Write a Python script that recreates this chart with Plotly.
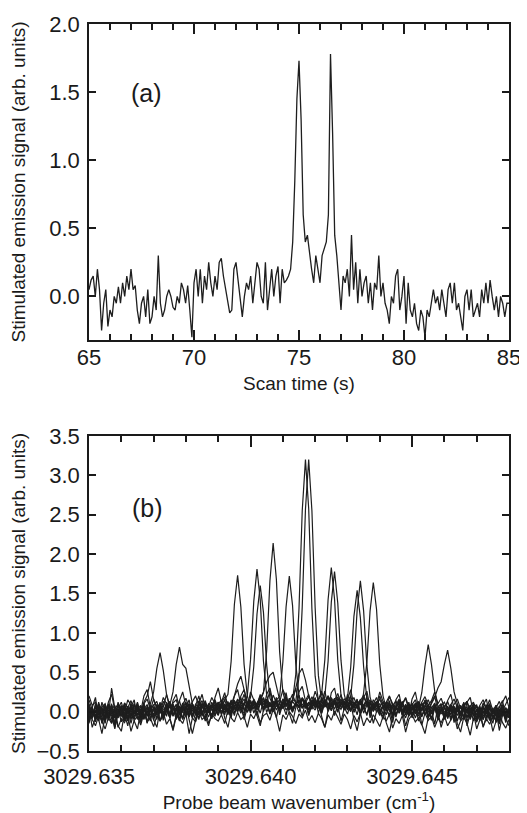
import plotly.graph_objects as go

# ---------------- Panel (a): scan time trace ----------------
time_start = 65.0
time_step = 0.1
signal_a = [
    0.05, 0.12, 0.15, 0.00, 0.20, 0.05, -0.25, -0.05, 0.05, -0.22,
    -0.10, -0.15, 0.00, -0.05, 0.07, -0.05, 0.10, 0.00, 0.15, 0.05,
    0.20, 0.05, 0.08, -0.10, -0.20, -0.05, 0.00, -0.15, 0.05, -0.20,
    -0.15, 0.00, -0.10, 0.30, -0.05, -0.15, -0.10, 0.00, 0.05, 0.00,
    -0.08, -0.10, 0.00, -0.05, 0.10, 0.05, -0.05, 0.08, -0.10, -0.30,
    0.10, 0.20, 0.00, 0.20, -0.05, 0.15, 0.05, 0.25, 0.10, 0.00,
    0.15, 0.05, 0.25, 0.28, 0.15, 0.05, -0.05, -0.12, -0.10, 0.20,
    0.25, 0.10, -0.05, -0.15, 0.00, 0.10, 0.05, 0.15, -0.05, 0.10,
    0.25, 0.20, 0.00, -0.05, 0.25, -0.10, 0.05, 0.20, 0.00, 0.15,
    0.22, -0.05, 0.20, 0.10, 0.12, 0.15, 0.20, 0.40, 0.85, 1.45,
    1.73, 1.30, 0.60, 0.40, 0.45, 0.30, 0.20, 0.10, 0.30, 0.20,
    0.10, 0.30, 0.35, 0.40, 0.60, 1.78, 1.20, 0.45, 0.30, 0.10,
    -0.10, 0.15, 0.10, 0.20, 0.00, 0.45, 0.05, 0.25, -0.05, 0.20,
    0.00, 0.10, 0.15, -0.05, 0.10, -0.10, 0.10, 0.05, 0.30, 0.00,
    0.10, -0.05, -0.10, -0.20, 0.00, -0.05, 0.15, 0.20, -0.10, 0.00,
    0.15, -0.20, 0.10, -0.10, -0.15, -0.05, -0.20, -0.25, -0.10, -0.15,
    -0.30, -0.10, -0.15, -0.05, 0.05, -0.05, 0.00, -0.10, 0.05, -0.05,
    -0.15, 0.05, 0.10, -0.05, 0.10, -0.10, -0.05, -0.15, -0.25, 0.00,
    0.05, -0.10, 0.05, -0.15, -0.10, -0.05, -0.15, 0.05, -0.05, 0.10,
    -0.05, 0.12, 0.00, -0.10, 0.00, -0.15, 0.00, -0.05, -0.15, -0.05,
    -0.05,
]

# ---------------- Panel (b): wavenumber scans ----------------
wn_start = 3029.635
wn_step = 0.0001

scan_1 = [
    0.08, -0.05, 0.02, -0.12, 0.05, -0.08, 0.10, -0.02, -0.15, 0.03,
    -0.06, 0.09, -0.10, 0.04, -0.03, 0.12, -0.08, 0.02, -0.05, 0.10,
    0.25, 0.55, 0.75, 0.52, 0.22, 0.08, -0.04, 0.06, -0.10, 0.02,
    0.11, -0.07, 0.05, -0.02, 0.14, 0.00, -0.09, 0.07, 0.03, -0.06,
    0.09, 0.15, 0.02, 0.10, -0.04, 0.12, 0.06, 0.18, 0.01, 0.08,
    0.14, -0.02, 0.10, 0.20, 0.05, 0.12, -0.03, 0.09, 0.16, 0.04,
    0.11, 0.19, 0.02, 0.13, 0.07, 0.21, 0.05, 0.10, -0.02, 0.15,
    0.08, 0.17, 0.03, 0.12, 0.20, 0.06, 0.14, -0.01, 0.10, 0.05,
    0.13, 0.02, 0.09, 0.16, -0.04, 0.07, 0.12, 0.00, 0.10, 0.04,
    -0.05, 0.08, 0.02, 0.11, -0.07, 0.06, 0.13, -0.02, 0.05, 0.09,
    -0.03, 0.07, 0.12, 0.01, 0.15, 0.04, 0.10, 0.18, 0.30, 0.38,
    0.60, 0.78, 0.55, 0.25, 0.10, -0.02, 0.06, 0.13, -0.05, 0.03,
    -0.08, 0.05, -0.02, 0.09, -0.11, 0.02, -0.06, 0.07, -0.04, 0.01,
    -0.07,
]
scan_2 = [
    -0.10, 0.04, -0.06, 0.12, -0.14, 0.02, -0.08, 0.06, -0.20, -0.03,
    0.07, -0.12, 0.01, -0.05, 0.10, -0.09, -0.02, 0.08, -0.15, 0.04,
    -0.04, 0.09, -0.01, 0.13, 0.05, 0.08, 0.25, 0.60, 0.82, 0.60,
    0.55, 0.32, 0.10, -0.03, 0.08, -0.06, 0.11, 0.02, -0.09, 0.05,
    0.12, -0.04, 0.08, 0.01, 0.15, -0.02, 0.10, 0.05, -0.06, 0.13,
    0.02, 0.09, -0.05, 0.11, 0.04, 0.16, -0.03, 0.07, 0.12, 0.00,
    0.08, -0.04, 0.14, 0.05, 0.10, -0.01, 0.17, 0.06, 0.12, 0.03,
    0.15, 0.07, -0.02, 0.11, 0.04, 0.18, 0.09, 0.01, 0.13, 0.06,
    -0.03, 0.10, 0.05, 0.14, 0.00, 0.08, -0.05, 0.12, 0.03, 0.09,
    0.01, -0.06, 0.07, 0.02, 0.10, -0.04, 0.05, 0.13, -0.02, 0.06,
    0.02, 0.11, 0.05, 0.24, 0.58, 0.85, 0.60, 0.26, 0.07, -0.03,
    0.05, -0.08, 0.09, 0.01, -0.05, 0.07, -0.10, 0.03, 0.08, -0.06,
    0.02, -0.12, 0.05, -0.03, 0.10, -0.07, 0.01, -0.14, 0.04, -0.02,
    0.06,
]
scan_3 = [
    0.02, -0.08, 0.10, -0.04, 0.06, -0.12, 0.01, 0.08, -0.06, 0.12,
    -0.03, 0.05, -0.10, 0.07, -0.01, 0.11, -0.07, 0.03, 0.09, -0.05,
    0.06, -0.02, 0.12, -0.09, 0.04, 0.10, -0.06, 0.02, 0.14, -0.01,
    0.07, -0.04, 0.10, 0.03, -0.08, 0.05, 0.12, -0.02, 0.08, 0.01,
    0.11, 0.04, 0.15, 0.22, 0.64, 1.36, 1.73, 1.33, 0.60, 0.20,
    0.05, 0.14, 0.02, 0.09, 0.17, -0.01, 0.10, 0.06, 0.13, 0.03,
    0.16, 0.08, 0.12, 0.00, 0.09, 0.15, 0.05, 0.11, -0.03, 0.07,
    0.13, 0.04, 0.18, 0.06, 0.10, 0.01, 0.14, 0.08, 0.03, 0.12,
    0.07, 0.00, 0.11, 0.05, -0.02, 0.24, 0.62, 1.28, 1.64, 1.30,
    0.60, 0.20, 0.04, 0.10, -0.03, 0.06, 0.12, -0.05, 0.08, 0.02,
    -0.06, 0.09, 0.03, 0.11, -0.04, 0.05, -0.09, 0.07, 0.01, 0.10,
    -0.05, 0.04, -0.11, 0.06, 0.00, 0.08, -0.07, 0.03, -0.02, 0.09,
    -0.10, 0.02, 0.06, -0.08, 0.04, -0.03, 0.07, -0.12, 0.00, -0.05,
    0.03,
]
scan_4 = [
    -0.05, 0.06, -0.10, 0.01, -0.07, 0.09, -0.03, -0.14, 0.04, -0.08,
    0.02, -0.11, 0.06, -0.04, -0.09, 0.03, 0.08, -0.06, 0.01, -0.12,
    0.05, -0.03, 0.09, -0.07, 0.00, 0.11, -0.05, 0.04, -0.10, 0.07,
    -0.02, 0.06, -0.08, 0.10, 0.03, -0.04, 0.08, -0.01, 0.12, 0.02,
    -0.05, 0.09, 0.04, 0.13, -0.02, 0.07, 0.15, 0.01, 0.10, 0.20,
    0.66, 1.40, 1.81, 1.42, 0.64, 0.21, 0.06, 0.13, 0.02, 0.10,
    0.04, 0.16, 0.07, -0.01, 0.12, 0.05, 0.18, 0.09, 0.02, 0.14,
    0.06, 0.11, -0.02, 0.15, 0.08, 0.03, 0.12, 0.19, 0.05, 0.10,
    0.03, 0.19, 0.60, 1.29, 1.66, 1.28, 0.59, 0.18, 0.06, 0.12,
    -0.02, 0.08, 0.03, 0.14, -0.05, 0.06, 0.10, 0.00, 0.09, -0.03,
    0.07, 0.02, -0.06, 0.11, 0.04, -0.08, 0.05, 0.09, -0.04, 0.01,
    0.08, -0.09, 0.03, -0.02, 0.10, -0.06, 0.04, -0.13, 0.02, 0.07,
    -0.05, 0.03, -0.10, 0.06, -0.02, -0.15, 0.04, -0.07, 0.09, -0.03,
    -0.08,
]
scan_5 = [
    0.10, -0.03, 0.05, -0.09, 0.12, 0.00, -0.06, 0.08, -0.02, 0.04,
    -0.13, 0.06, 0.01, -0.07, 0.10, -0.04, 0.03, -0.10, 0.07, 0.00,
    -0.05, 0.08, -0.12, 0.03, 0.06, -0.08, 0.02, 0.09, -0.03, 0.11,
    0.00, -0.06, 0.07, 0.02, -0.04, 0.10, 0.04, -0.07, 0.06, 0.13,
    0.03, 0.08, -0.01, 0.11, 0.05, 0.14, 0.02, 0.09, 0.16, 0.06,
    0.18, 0.57, 1.24, 1.60, 1.26, 0.59, 0.17, 0.08, 0.15, 0.03,
    0.12, 0.06, 0.17, 0.01, 0.10, 0.14, 0.04, 0.11, 0.19, 0.07,
    0.02, 0.13, 0.08, 0.16, 0.00, 0.09, 0.14, 0.05, 0.11, 0.03,
    0.17, 0.56, 1.21, 1.54, 1.19, 0.57, 0.16, 0.04, 0.10, -0.01,
    0.07, 0.12, 0.02, -0.04, 0.09, 0.05, -0.02, 0.11, 0.03, -0.06,
    0.04, 0.10, -0.03, 0.06, 0.13, -0.05, 0.02, 0.08, -0.09, 0.03,
    -0.04, 0.07, -0.08, 0.02, 0.05, -0.11, 0.06, 0.00, -0.07, 0.04,
    0.09, -0.06, 0.01, -0.12, 0.05, -0.02, 0.08, -0.09, 0.03, -0.14,
    0.02,
]
scan_6 = [
    -0.12, 0.03, -0.07, 0.06, -0.15, -0.02, 0.08, -0.10, 0.01, -0.05,
    0.05, -0.09, -0.02, 0.10, -0.06, 0.02, -0.13, 0.05, -0.01, 0.08,
    -0.07, 0.01, 0.06, -0.11, 0.04, -0.03, 0.09, -0.06, 0.02, -0.09,
    0.05, 0.10, -0.04, 0.03, -0.10, 0.07, -0.01, 0.05, -0.07, 0.02,
    0.08, -0.03, 0.10, 0.02, 0.07, -0.05, 0.12, 0.04, -0.02, 0.09,
    0.03, 0.11, 0.06, 0.13, 0.24, 0.78, 1.66, 2.14, 1.68, 0.76,
    0.25, 0.09, 0.14, 0.02, 0.11, 0.07, 0.16, 0.04, 0.10, 0.13,
    0.05, 0.12, 0.00, 0.20, 0.64, 1.39, 1.78, 1.38, 0.65, 0.22,
    0.06, 0.13, 0.01, 0.09, 0.15, 0.04, -0.03, 0.10, 0.05, 0.12,
    -0.02, 0.07, 0.11, 0.00, 0.06, -0.05, 0.09, 0.02, -0.08, 0.05,
    0.10, -0.03, 0.04, -0.07, 0.08, 0.01, -0.10, 0.06, -0.02, 0.03,
    -0.09, 0.05, -0.04, 0.07, -0.12, 0.01, -0.06, 0.04, -0.10, 0.02,
    0.06, -0.08, -0.02, 0.04, -0.11, 0.03, -0.05, -0.16, 0.01, -0.07,
    0.00,
]
scan_7 = [
    0.04, -0.09, 0.07, -0.03, 0.02, -0.11, 0.06, 0.00, -0.08, 0.09,
    -0.04, 0.03, -0.12, 0.08, -0.02, 0.05, -0.09, 0.11, -0.06, 0.01,
    0.09, -0.05, 0.03, -0.08, 0.12, -0.02, 0.05, -0.10, 0.07, 0.00,
    -0.06, 0.08, 0.02, -0.11, 0.06, -0.03, 0.09, 0.04, -0.07, 0.10,
    0.01, 0.06, -0.04, 0.11, 0.03, 0.08, -0.01, 0.13, 0.05, 0.00,
    0.12, 0.04, 0.09, -0.02, 0.14, 0.06, 0.10, 0.02, 0.15, 0.19,
    0.63, 1.33, 1.72, 1.35, 0.61, 0.20, 0.08, 0.14, 0.03, 0.11,
    0.06, 0.15, 0.22, 0.66, 1.42, 1.83, 1.43, 0.65, 0.21, 0.09,
    0.13, 0.02, 0.10, 0.05, 0.14, -0.02, 0.08, 0.12, 0.01, 0.07,
    0.10, -0.03, 0.05, 0.09, -0.06, 0.04, 0.00, 0.08, -0.04, 0.06,
    -0.08, 0.03, 0.07, -0.05, 0.02, 0.09, -0.03, 0.05, -0.10, 0.01,
    0.06, -0.04, 0.02, -0.09, 0.08, -0.02, 0.04, -0.07, 0.05, -0.12,
    0.03, -0.05, 0.07, -0.01, -0.09, 0.04, -0.13, 0.02, -0.06, 0.05,
    -0.04,
]
scan_8 = [
    -0.08, 0.05, -0.13, 0.02, -0.04, 0.09, -0.10, 0.03, -0.06, -0.01,
    0.08, -0.07, 0.04, -0.15, 0.01, -0.05, 0.07, -0.09, 0.02, 0.06,
    -0.11, 0.04, -0.02, 0.09, -0.06, 0.12, -0.04, 0.01, 0.07, -0.08,
    0.03, -0.01, 0.10, -0.05, 0.06, 0.00, -0.09, 0.08, 0.02, 0.05,
    -0.03, 0.12, 0.04, -0.02, 0.09, 0.14, 0.01, 0.07, 0.11, -0.01,
    0.08, 0.15, 0.03, 0.10, 0.18, 0.05, 0.12, 0.00, 0.09, 0.16,
    0.04, 0.11, 0.07, 0.14, 0.47, 1.31, 2.55, 3.20, 2.58, 1.30,
    0.45, 0.14, 0.06, 0.12, 0.03, 0.10, 0.17, 0.05, 0.11, 0.02,
    0.09, 0.15, -0.01, 0.07, 0.12, 0.04, 0.10, -0.03, 0.08, 0.13,
    0.02, 0.06, -0.04, 0.10, 0.03, -0.07, 0.08, 0.01, 0.05, -0.05,
    0.07, -0.02, 0.11, -0.06, 0.03, 0.08, -0.11, 0.04, 0.00, 0.06,
    -0.07, 0.02, 0.05, -0.10, 0.03, -0.04, 0.08, -0.08, 0.01, -0.03,
    -0.12, 0.04, -0.06, 0.02, 0.07, -0.09, 0.00, -0.05, 0.06, -0.11,
    0.01,
]
scan_9 = [
    0.06, -0.02, -0.09, 0.04, -0.12, 0.07, -0.05, 0.10, -0.16, 0.00,
    -0.06, 0.10, -0.03, 0.02, -0.09, 0.06, -0.14, 0.01, 0.05, -0.08,
    0.03, -0.10, 0.07, -0.04, 0.01, -0.07, 0.10, -0.02, -0.12, 0.05,
    -0.03, 0.04, -0.08, 0.07, -0.01, 0.11, -0.05, 0.02, 0.09, -0.04,
    0.06, 0.00, 0.09, -0.04, 0.13, 0.03, 0.08, -0.02, 0.10, 0.05,
    0.01, 0.11, 0.06, 0.15, 0.02, 0.09, -0.01, 0.13, 0.07, 0.04,
    0.12, 0.02, 0.08, 0.15, 0.13, 0.44, 1.33, 2.57, 3.20, 2.55,
    1.32, 0.46, 0.13, 0.07, 0.11, 0.02, 0.14, 0.08, 0.16, 0.04,
    0.10, 0.03, 0.12, 0.06, -0.02, 0.09, 0.14, 0.01, 0.07, 0.11,
    -0.03, 0.08, 0.04, -0.06, 0.10, 0.02, 0.06, -0.04, 0.09, 0.00,
    0.05, -0.08, 0.03, 0.10, -0.04, 0.06, -0.01, 0.08, -0.09, 0.04,
    0.00, -0.06, 0.09, -0.03, 0.05, -0.11, 0.02, 0.06, -0.08, 0.03,
    -0.04, 0.07, -0.10, 0.01, -0.06, 0.05, -0.14, 0.03, -0.02, -0.09,
    0.05,
]
scan_10 = [
    0.15, 0.02, -0.06, 0.10, -0.03, 0.05, -0.11, 0.03, 0.08, -0.07,
    0.01, -0.04, 0.07, -0.10, 0.04, 0.09, -0.02, 0.12, 0.20, 0.38,
    0.15, 0.05, 0.10, -0.02, 0.08, 0.13, 0.02, 0.09, -0.05, 0.06,
    0.12, 0.01, 0.08, -0.04, 0.10, 0.05, 0.14, -0.01, 0.07, 0.03,
    0.11, 0.06, 0.15, 0.02, 0.09, 0.20, 0.35, 0.45, 0.28, 0.12,
    0.04, 0.13, 0.08, 0.17, 0.25, 0.38, 0.46, 0.50, 0.34, 0.15,
    0.09, 0.18, 0.06, 0.14, 0.30, 0.48, 0.55, 0.40, 0.20, 0.11,
    0.17, 0.05, 0.13, 0.08, 0.20, 0.12, 0.03, 0.16, 0.09, 0.14,
    0.02, 0.11, 0.18, 0.06, 0.13, 0.21, 0.08, 0.15, 0.00, 0.10,
    0.16, 0.05, 0.12, 0.20, 0.07, 0.14, 0.02, 0.11, 0.18, 0.06,
    0.09, 0.15, 0.03, 0.12, 0.19, 0.08, 0.14, 0.25, 0.10, 0.17,
    0.05, 0.13, 0.02, 0.09, 0.16, 0.04, 0.11, -0.02, 0.07, 0.12,
    0.00, 0.08, 0.15, 0.03, 0.10, -0.03, 0.06, 0.13, 0.01, 0.09,
    0.18,
]
scan_11 = [
    -0.02, -0.10, -0.18, -0.05, -0.12, -0.22, -0.08, -0.15, -0.03, -0.20,
    -0.09, -0.14, -0.04, -0.25, -0.11, -0.06, -0.17, -0.02, -0.13, -0.08,
    -0.19, -0.05, -0.12, -0.01, -0.16, -0.09, -0.22, -0.04, -0.10, -0.15,
    -0.03, -0.28, -0.08, -0.13, 0.00, -0.10, -0.06, -0.18, -0.02, -0.09,
    -0.12, -0.04, -0.15, 0.02, -0.08, -0.13, -0.01, -0.10, -0.06, -0.20,
    -0.03, -0.09, 0.01, -0.14, -0.05, -0.02, -0.11, 0.03, -0.07, -0.25,
    -0.04, -0.10, 0.00, -0.06, -0.15, -0.03, -0.08, 0.02, -0.12, -0.05,
    -0.14, -0.02, -0.09, -0.20, -0.04, -0.11, 0.01, -0.07, -0.16, -0.03,
    -0.10, -0.22, -0.05, -0.13, -0.02, -0.18, -0.08, -0.14, -0.04, -0.11,
    -0.19, -0.06, -0.12, -0.03, -0.21, -0.09, -0.15, -0.05, -0.26, -0.10,
    -0.04, -0.13, -0.08, -0.17, -0.02, -0.11, -0.06, -0.20, -0.09, -0.14,
    -0.05, -0.18, -0.10, -0.03, -0.22, -0.12, -0.07, -0.15, -0.30, -0.08,
    -0.13, -0.04, -0.19, -0.09, -0.16, -0.06, -0.11, -0.02, -0.14, -0.21,
    -0.10,
]
scan_12 = [
    0.20, 0.08, 0.12, -0.02, 0.06, 0.10, -0.05, 0.30, 0.04, 0.09,
    -0.03, 0.11, 0.05, 0.14, 0.00, 0.07, -0.04, 0.10, 0.16, 0.03,
    0.08, 0.13, -0.02, 0.06, 0.22, 0.04, 0.11, 0.15, 0.01, 0.09,
    0.17, 0.05, 0.12, 0.20, 0.07, 0.14, 0.02, 0.10, 0.06, 0.15,
    0.03, 0.11, 0.19, 0.08, 0.13, 0.05, 0.16, 0.10, 0.22, 0.07,
    0.14, 0.04, 0.12, 0.18, 0.09, 0.15, 0.06, 0.21, 0.11, 0.03,
    0.16, 0.08, 0.13, 0.22, 0.10, 0.05, 0.17, 0.12, 0.07, 0.19,
    0.09, 0.15, 0.26, 0.11, 0.18, 0.06, 0.14, 0.23, 0.10, 0.16,
    0.12, 0.20, 0.05, 0.14, 0.09, 0.18, 0.11, 0.03, 0.15, 0.08,
    0.25, 0.13, 0.06, 0.19, 0.10, 0.04, 0.14, 0.09, 0.17, 0.02,
    0.10, 0.06, 0.13, 0.01, 0.08, 0.15, 0.04, 0.11, -0.01, 0.07,
    0.12, 0.03, 0.09, 0.16, 0.05, -0.02, 0.08, 0.13, 0.02, 0.10,
    0.06, -0.03, 0.11, 0.04, 0.15, 0.01, 0.08, -0.02, 0.12, 0.20,
    0.05,
]
scan_13 = [
    -0.15, 0.05, 0.18, -0.10, -0.28, -0.05, 0.12, 0.22, 0.02, -0.18,
    -0.25, -0.02, 0.15, 0.08, -0.12, -0.22, 0.00, 0.20, 0.28, 0.05,
    -0.10, -0.20, 0.03, 0.18, 0.10, -0.08, -0.24, -0.06, 0.14, 0.25,
    0.08, -0.12, -0.28, -0.10, 0.10, 0.22, 0.05, -0.15, -0.05, 0.18,
    0.30, 0.12, -0.08, -0.20, 0.02, 0.20, 0.28, 0.08, -0.10, 0.05,
    0.25, 0.15, -0.05, -0.18, 0.00, 0.22, 0.30, 0.10, -0.08, 0.12,
    0.28, 0.18, -0.02, -0.15, 0.05, 0.25, 0.32, 0.12, -0.05, 0.10,
    0.26, 0.14, -0.06, -0.20, 0.02, 0.24, 0.30, 0.08, -0.12, 0.04,
    0.22, 0.12, -0.10, -0.24, -0.02, 0.18, 0.26, 0.06, -0.15, 0.00,
    0.20, 0.08, -0.14, -0.26, -0.05, 0.15, 0.22, 0.02, -0.18, -0.04,
    0.16, 0.25, 0.05, -0.16, -0.28, -0.08, 0.12, 0.20, 0.00, -0.20,
    -0.06, 0.14, 0.22, 0.04, -0.15, -0.26, -0.05, 0.12, 0.18, -0.02,
    -0.22, -0.10, 0.08, 0.16, -0.04, -0.25, -0.12, 0.06, 0.14, -0.08,
    -0.18,
]
scan_14 = [
    0.05, -0.20, -0.08, 0.10, 0.02, -0.15, 0.08, -0.05, -0.22, 0.04,
    0.12, -0.02, -0.18, 0.06, 0.15, -0.10, -0.03, 0.09, -0.14, 0.02,
    0.16, 0.05, -0.12, -0.04, 0.10, -0.08, 0.14, 0.22, 0.03, -0.10,
    0.05, 0.15, -0.06, 0.08, 0.20, 0.00, -0.12, 0.06, 0.18, 0.10,
    -0.04, 0.12, 0.24, 0.06, -0.08, 0.14, 0.04, 0.20, 0.28, 0.10,
    -0.02, 0.16, 0.08, 0.22, 0.00, 0.12, 0.26, 0.06, 0.18, -0.04,
    0.10, 0.24, 0.02, 0.16, 0.30, 0.08, -0.06, 0.14, 0.22, 0.04,
    0.18, -0.02, 0.12, 0.26, 0.06, 0.16, -0.05, 0.10, 0.22, 0.02,
    0.14, 0.28, 0.08, -0.04, 0.16, 0.04, 0.20, -0.08, 0.10, 0.18,
    0.02, -0.10, 0.12, 0.06, -0.14, 0.08, 0.16, -0.04, 0.02, 0.12,
    -0.06, 0.08, -0.12, 0.04, 0.14, -0.08, 0.02, -0.16, 0.06, 0.10,
    -0.10, 0.00, 0.08, -0.14, 0.04, -0.06, 0.12, -0.18, -0.02, 0.06,
    -0.12, 0.04, -0.20, -0.06, 0.08, -0.10, 0.02, -0.24, -0.04, 0.05,
    -0.08,
]
scans_b = [scan_1, scan_2, scan_3, scan_4, scan_5, scan_6, scan_7,
           scan_8, scan_9, scan_10, scan_11, scan_12, scan_13, scan_14]

# tick values
ticks_a_y = [0.0, 0.5, 1.0, 1.5, 2.0]
ticks_b_y = [-0.5, 0.0, 0.5, 1.0, 1.5, 2.0, 2.5, 3.0, 3.5]
ticks_a_x = [65, 70, 75, 80, 85]
ticks_b_x = [3029.635, 3029.640, 3029.645]
minor_b_x = [3029.636, 3029.637, 3029.638, 3029.639, 3029.641,
             3029.642, 3029.643, 3029.644, 3029.646, 3029.647]

FONT = "Arial, Liberation Sans, Helvetica, sans-serif"
INK = "#1a1a1a"
LINE = "#1e1e1e"

time_a = [time_start + i * time_step for i in range(len(signal_a))]

fig = go.Figure()
fig.add_trace(go.Scatter(x=time_a, y=signal_a, mode="lines",
                         line=dict(color=LINE, width=1.3),
                         xaxis="x", yaxis="y", showlegend=False))
for scan in scans_b:
    wn = [wn_start + i * wn_step for i in range(len(scan))]
    fig.add_trace(go.Scatter(x=wn, y=scan, mode="lines",
                             line=dict(color=LINE, width=1.2),
                             xaxis="x2", yaxis="y2", showlegend=False))
# empty traces so the top (mirror) tick axes exist
fig.add_trace(go.Scatter(x=[], y=[], xaxis="x3", yaxis="y", showlegend=False, hoverinfo="skip"))
fig.add_trace(go.Scatter(x=[], y=[], xaxis="x4", yaxis="y2", showlegend=False, hoverinfo="skip"))

axis_common = dict(
    showline=True, linecolor=INK, linewidth=1.5, automargin=False,
    ticks="inside", tickcolor=INK, tickwidth=1.5,
    showgrid=False, zeroline=False,
    tickfont=dict(family=FONT, size=22, color=INK),
    title_font=dict(family=FONT, size=19, color=INK),
)
top_common = dict(
    showline=False, ticks="inside", tickcolor=INK, tickwidth=1.5, automargin=False,
    showgrid=False, zeroline=False, showticklabels=False, side="top",
)

# The page body adds an 8 px offset, so the margins are set 8 px smaller on
# the left/top to place the frames where the reference has them.
fig.update_layout(
    width=527, height=813,
    paper_bgcolor="white", plot_bgcolor="white",
    margin=dict(l=81, r=26, t=16, b=70),
    font=dict(family=FONT, color=INK),
    xaxis=dict(axis_common, mirror=True, domain=[0, 1], anchor="y", range=[65, 85],
               tickvals=ticks_a_x, ticklen=10, ticklabelstandoff=-3,
               minor=dict(ticks="inside", dtick=1, tick0=65, ticklen=6,
                          tickcolor=INK, tickwidth=1.5, showgrid=False),
               title=dict(text="Scan time (s)", standoff=8)),
    xaxis3=dict(top_common, overlaying="x", anchor="y", range=[65, 85],
                tickvals=ticks_a_x, ticklen=10,
                minor=dict(ticks="inside", dtick=1, tick0=65, ticklen=6,
                           tickcolor=INK, tickwidth=1.5, showgrid=False)),
    yaxis=dict(axis_common, mirror="ticks", domain=[0.5653, 1.0], anchor="x",
               range=[-0.32, 2.0], tickvals=ticks_a_y, tickformat=".1f", ticklen=7,
               ticklabelstandoff=3,
               title=dict(text="Stimulated emission signal (arb. units)", standoff=27)),
    xaxis2=dict(axis_common, mirror=True, domain=[0, 1], anchor="y2",
                range=[3029.635, 3029.648],
                tickvals=ticks_b_x, tickformat=".3f", ticklen=11, ticklabelstandoff=5,
                minor=dict(ticks="inside", tickvals=minor_b_x, ticklen=6,
                           tickcolor=INK, tickwidth=1.5, showgrid=False),
                title=dict(text="Probe beam wavenumber (cm<sup>-1</sup>)", standoff=8)),
    xaxis4=dict(top_common, overlaying="x2", anchor="y2", range=[3029.635, 3029.648],
                tickvals=ticks_b_x, ticklen=11,
                minor=dict(ticks="inside", tickvals=minor_b_x, ticklen=6,
                           tickcolor=INK, tickwidth=1.5, showgrid=False)),
    yaxis2=dict(axis_common, mirror="ticks", domain=[0.0, 0.4333], anchor="x2",
                range=[-0.5, 3.5], tickvals=ticks_b_y, tickformat=".1f", ticklen=7,
                ticklabelstandoff=3,
                title=dict(text="Stimulated emission signal (arb. units)", standoff=12)),
    annotations=[
        dict(text="(a)", x=67.76, y=1.49, xref="x", yref="y", showarrow=False,
             font=dict(family=FONT, size=25, color=INK)),
        dict(text="(b)", x=3029.6368, y=2.59, xref="x2", yref="y2", showarrow=False,
             font=dict(family=FONT, size=25, color=INK)),
    ],
)

fig.write_html("out.html")
